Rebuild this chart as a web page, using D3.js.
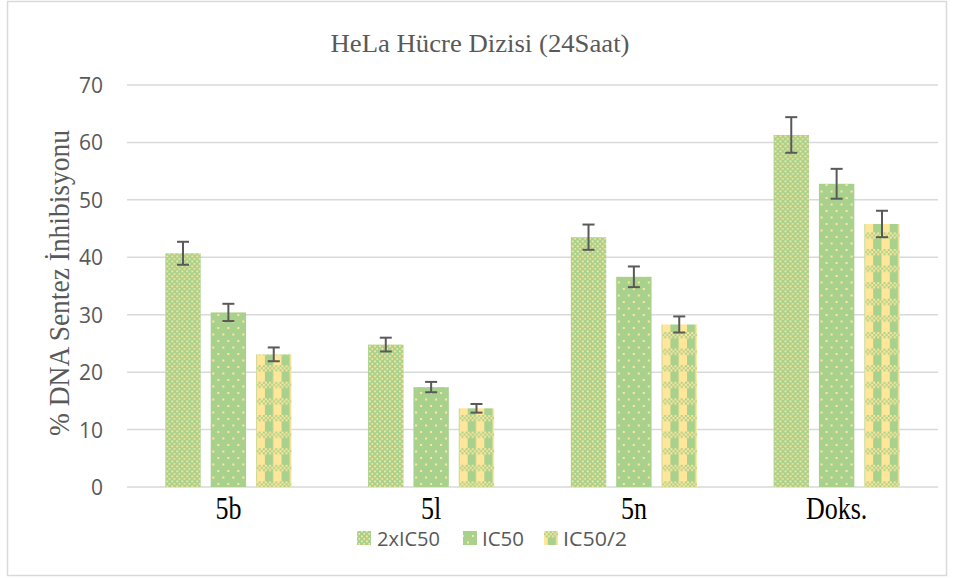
<!DOCTYPE html>
<html>
<head>
<meta charset="utf-8">
<script src="https://cdn.jsdelivr.net/npm/d3@7"></script>
<style>
  html, body { margin: 0; padding: 0; background: #fff; }
  svg { display: block; }
</style>
</head>
<body>
<svg id="chart" width="960" height="578"></svg>
<script>
// Chart data
const categories = ["5b", "5l", "5n", "Doks."];
const seriesNames = ["2xIC50", "IC50", "IC50/2"];
const values2x = [40.7, 24.8, 43.5, 61.3];
const valuesIC50 = [30.4, 17.4, 36.6, 52.8];
const valuesHalf = [23.1, 13.7, 28.3, 45.8];
const errors2x = [2.0, 1.2, 2.2, 3.1];
const errorsIC50 = [1.5, 0.9, 1.8, 2.6];
const errorsHalf = [1.2, 0.75, 1.4, 2.3];
const yTicks = [0, 10, 20, 30, 40, 50, 60, 70];
const titleText = "HeLa Hücre Dizisi (24Saat)";
const yLabelText = "% DNA Sentez İnhibisyonu";

const seriesValues = [values2x, valuesIC50, valuesHalf];
const seriesErrors = [errors2x, errorsIC50, errorsHalf];
const patternIds = ["pat-dense", "pat-sparse", "pat-plaid"];

const GREEN = "#a9d18e";
const YELLOW = "#ffe699";
const GREY_TEXT = "#595959";
const GRID = "#d9d9d9";

const svg = d3.select("#chart");

// Fill patterns
const defs = svg.append("defs");

// dense dotted
const p1 = defs.append("pattern").attr("id", "pat-dense")
  .attr("patternUnits", "userSpaceOnUse").attr("width", 5).attr("height", 5);
p1.append("rect").attr("width", 5).attr("height", 5).attr("fill", GREEN);
p1.append("rect").attr("x", 1).attr("y", 0.5).attr("width", 1.8).attr("height", 1.8).attr("fill", YELLOW);
p1.append("rect").attr("x", 3.5).attr("y", 3).attr("width", 1.8).attr("height", 1.8).attr("fill", YELLOW);

// sparse dotted
const p2 = defs.append("pattern").attr("id", "pat-sparse")
  .attr("patternUnits", "userSpaceOnUse").attr("width", 10).attr("height", 13);
p2.append("rect").attr("width", 10).attr("height", 13).attr("fill", GREEN);
p2.append("rect").attr("x", 2).attr("y", 2).attr("width", 2).attr("height", 2).attr("fill", YELLOW);
p2.append("rect").attr("x", 7).attr("y", 8.5).attr("width", 2).attr("height", 2).attr("fill", YELLOW);

// plaid: vertical stripes with a checkered horizontal band
const tile = 16.6;
const p3 = defs.append("pattern").attr("id", "pat-plaid")
  .attr("patternUnits", "userSpaceOnUse").attr("width", tile).attr("height", tile);
p3.append("rect").attr("width", tile).attr("height", tile).attr("fill", GREEN);
p3.append("rect").attr("x", tile / 2).attr("width", tile / 2).attr("height", tile).attr("fill", YELLOW);
const cs = tile / 8;
for (let r = 0; r < 3; r++) {
  for (let c = 0; c < 8; c++) {
    p3.append("rect")
      .attr("x", c * cs).attr("y", r * cs)
      .attr("width", cs).attr("height", cs)
      .attr("fill", (r + c) % 2 === 0 ? YELLOW : GREEN);
  }
}

// Outer frame
svg.append("rect")
  .attr("x", 7.5).attr("y", 1.5).attr("width", 939).attr("height", 574)
  .attr("fill", "#fff").attr("stroke", GRID).attr("stroke-width", 1.5);

// Scales
const plotLeft = 127, plotRight = 938;
const y = d3.scaleLinear().domain([0, 70]).range([487, 85]);
const x0 = d3.scaleBand().domain(categories).range([plotLeft, plotRight])
  .paddingInner(0.378).paddingOuter(0.189);
const x1 = d3.scaleBand().domain(seriesNames).range([0, x0.bandwidth()])
  .paddingInner(0.22).paddingOuter(0);

// Gridlines
svg.append("g").selectAll("line").data(yTicks).join("line")
  .attr("x1", plotLeft).attr("x2", plotRight)
  .attr("y1", d => y(d)).attr("y2", d => y(d))
  .attr("stroke", GRID).attr("stroke-width", 1.5);

// Y axis tick labels
const yAxis = d3.axisLeft(y).tickValues(yTicks).tickSize(0).tickPadding(0);
const gy = svg.append("g").attr("transform", "translate(103,0)").call(yAxis);
gy.select(".domain").remove();
gy.selectAll("text")
  .attr("fill", GREY_TEXT)
  .style("font-family", "'Open Sans', 'Noto Sans', sans-serif")
  .style("font-size", "21px")
  .attr("dy", "0.36em");

// Bars
const groups = svg.append("g").selectAll("g").data(categories).join("g")
  .attr("transform", d => `translate(${x0(d)},0)`);

groups.each(function (cat, ci) {
  const g = d3.select(this);
  seriesNames.forEach((s, si) => {
    const v = seriesValues[si][ci];
    const e = seriesErrors[si][ci];
    const bx = x1(s), bw = x1.bandwidth();
    g.append("rect")
      .attr("x", bx).attr("y", y(v))
      .attr("width", bw).attr("height", y(0) - y(v))
      .attr("fill", `url(#${patternIds[si]})`);
    const cx = bx + bw / 2;
    const eg = g.append("g").attr("stroke", GREY_TEXT).attr("stroke-width", 2);
    eg.append("line").attr("x1", cx).attr("x2", cx).attr("y1", y(v + e)).attr("y2", y(v - e));
    eg.append("line").attr("x1", cx - 6).attr("x2", cx + 6).attr("y1", y(v + e)).attr("y2", y(v + e));
    eg.append("line").attr("x1", cx - 6).attr("x2", cx + 6).attr("y1", y(v - e)).attr("y2", y(v - e));
  });
});

// Category labels (slightly tall serif glyphs)
const xAxis = d3.axisBottom(x0).tickSize(0).tickPadding(0);
const gx = svg.append("g").attr("transform", "translate(0,519)").call(xAxis);
gx.select(".domain").remove();
gx.selectAll("text")
  .attr("fill", "#000")
  .attr("dy", 0)
  .attr("y", 0)
  .attr("transform", "scale(1,1.2)")
  .style("font-family", "'Liberation Serif', 'Times New Roman', serif")
  .style("font-size", "26px");

// Title
svg.append("text")
  .attr("x", 480).attr("y", 52)
  .attr("text-anchor", "middle")
  .attr("textLength", 299).attr("lengthAdjust", "spacingAndGlyphs")
  .attr("fill", GREY_TEXT)
  .style("font-family", "'Liberation Serif', 'Times New Roman', serif")
  .style("font-size", "25px")
  .text(titleText);

// Y axis title
svg.append("text")
  .attr("transform", "translate(69,283) rotate(-90)")
  .attr("text-anchor", "middle")
  .attr("textLength", 306).attr("lengthAdjust", "spacingAndGlyphs")
  .attr("fill", GREY_TEXT)
  .style("font-family", "'Liberation Serif', 'Times New Roman', serif")
  .style("font-size", "29px")
  .text(yLabelText);

// Legend
const legendItems = [
  { name: seriesNames[0], mx: 357, tx: 377, tw: 63 },
  { name: seriesNames[1], mx: 463, tx: 482, tw: 42 },
  { name: seriesNames[2], mx: 544, tx: 563, tw: 64 }
];
const lg = svg.append("g");
legendItems.forEach((it, i) => {
  lg.append("rect")
    .attr("x", it.mx).attr("y", 531).attr("width", 14).attr("height", 14)
    .attr("fill", `url(#${patternIds[i]})`);
  lg.append("text")
    .attr("x", it.tx).attr("y", 546)
    .attr("textLength", it.tw).attr("lengthAdjust", "spacingAndGlyphs")
    .attr("fill", GREY_TEXT)
    .style("font-family", "'Open Sans', 'Noto Sans', sans-serif")
    .style("font-size", "20px")
    .text(it.name);
});
</script>
</body>
</html>
